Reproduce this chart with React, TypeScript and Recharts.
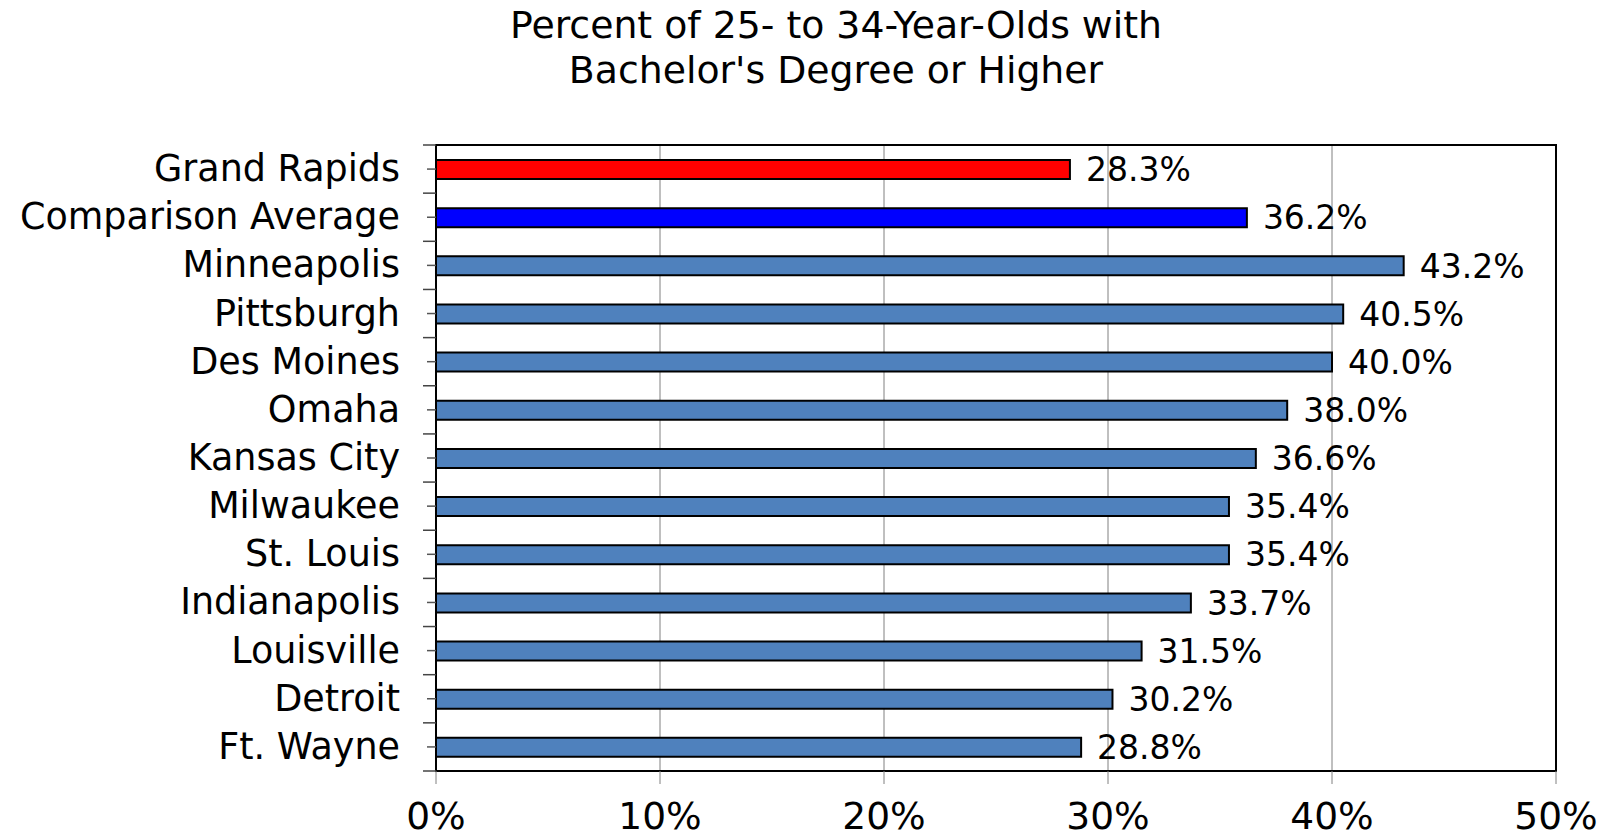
import { BarChart, Bar, XAxis, YAxis, CartesianGrid, Cell, LabelList, ReferenceArea } from 'recharts';

const cities = [
  'Grand Rapids',
  'Comparison Average',
  'Minneapolis',
  'Pittsburgh',
  'Des Moines',
  'Omaha',
  'Kansas City',
  'Milwaukee',
  'St. Louis',
  'Indianapolis',
  'Louisville',
  'Detroit',
  'Ft. Wayne',
];
const percents = [28.3, 36.2, 43.2, 40.5, 40.0, 38.0, 36.6, 35.4, 35.4, 33.7, 31.5, 30.2, 28.8];
const barColors = ['#ff0000', '#0000ff', '#4f81bd', '#4f81bd', '#4f81bd', '#4f81bd', '#4f81bd', '#4f81bd', '#4f81bd', '#4f81bd', '#4f81bd', '#4f81bd', '#4f81bd'];
const xTicks = [0, 10, 20, 30, 40, 50];

const data = cities.map((name, i) => ({ name, value: percents[i] }));

const FONT = '"DejaVu Sans", Verdana, sans-serif';
const PLOT_LEFT = 436;
const PLOT_TOP = 145;
const PLOT_BOTTOM = 771;
const BAND = (PLOT_BOTTOM - PLOT_TOP) / cities.length;

function CityTick(props: any) {
  const { y, payload, index } = props;
  return (
    <g>
      <line x1={PLOT_LEFT - 9} x2={PLOT_LEFT} y1={y} y2={y} stroke="#555" strokeWidth={1.5} />
      <line x1={PLOT_LEFT - 13} x2={PLOT_LEFT} y1={y - BAND / 2} y2={y - BAND / 2} stroke="#444" strokeWidth={1.5} />
      {index === cities.length - 1 && (
        <line x1={PLOT_LEFT - 13} x2={PLOT_LEFT} y1={y + BAND / 2} y2={y + BAND / 2} stroke="#444" strokeWidth={1.5} />
      )}
      <text x={PLOT_LEFT - 36} y={y + 12} textAnchor="end" fontSize={36.5} fontFamily={FONT} fill="#000">
        {payload.value}
      </text>
    </g>
  );
}

function PercentTick(props: any) {
  const { x, payload } = props;
  return (
    <text x={x} y={829} textAnchor="middle" fontSize={37.5} fontFamily={FONT} fill="#000">
      {payload.value}%
    </text>
  );
}

export default function App() {
  return (
    <div style={{ position: 'absolute', left: 0, top: 0, width: 1608, height: 838, background: '#fff' }}>
      <div
        style={{
          position: 'absolute',
          left: 836,
          top: 3,
          transform: 'translateX(-50%)',
          whiteSpace: 'nowrap',
          textAlign: 'center',
          fontFamily: FONT,
          fontSize: 37.8,
          lineHeight: '45px',
          color: '#000',
        }}
      >
        Percent of 25- to 34-Year-Olds with
        <br />
        Bachelor's Degree or Higher
      </div>
      <BarChart
        width={1608}
        height={838}
        data={data}
        layout="vertical"
        margin={{ top: PLOT_TOP, right: 52, bottom: 0, left: 0 }}
        barCategoryGap={0}
      >
        <CartesianGrid horizontal={false} vertical stroke="#808080" strokeWidth={1} />
        <XAxis
          type="number"
          domain={[0, 50]}
          ticks={xTicks}
          interval={0}
          height={838 - PLOT_BOTTOM}
          tickSize={13}
          tickLine={{ stroke: '#808080', strokeWidth: 1 }}
          axisLine={{ stroke: '#000', strokeWidth: 2 }}
          tick={<PercentTick />}
        />
        <YAxis
          type="category"
          dataKey="name"
          width={PLOT_LEFT}
          interval={0}
          tickLine={false}
          axisLine={{ stroke: '#000', strokeWidth: 2 }}
          tick={<CityTick />}
        />
        <ReferenceArea x1={0} x2={50} fill="none" stroke="#000" strokeWidth={2} ifOverflow="visible" />
        <Bar dataKey="value" barSize={19} stroke="#000" strokeWidth={2} isAnimationActive={false}>
          {data.map((d, i) => (
            <Cell key={d.name} fill={barColors[i]} />
          ))}
          <LabelList
            dataKey="value"
            position="right"
            offset={16}
            formatter={(v: any) => `${Number(v).toFixed(1)}%`}
            style={{ fontSize: 33, fontFamily: FONT, fill: '#000' }}
          />
        </Bar>
      </BarChart>
    </div>
  );
}
